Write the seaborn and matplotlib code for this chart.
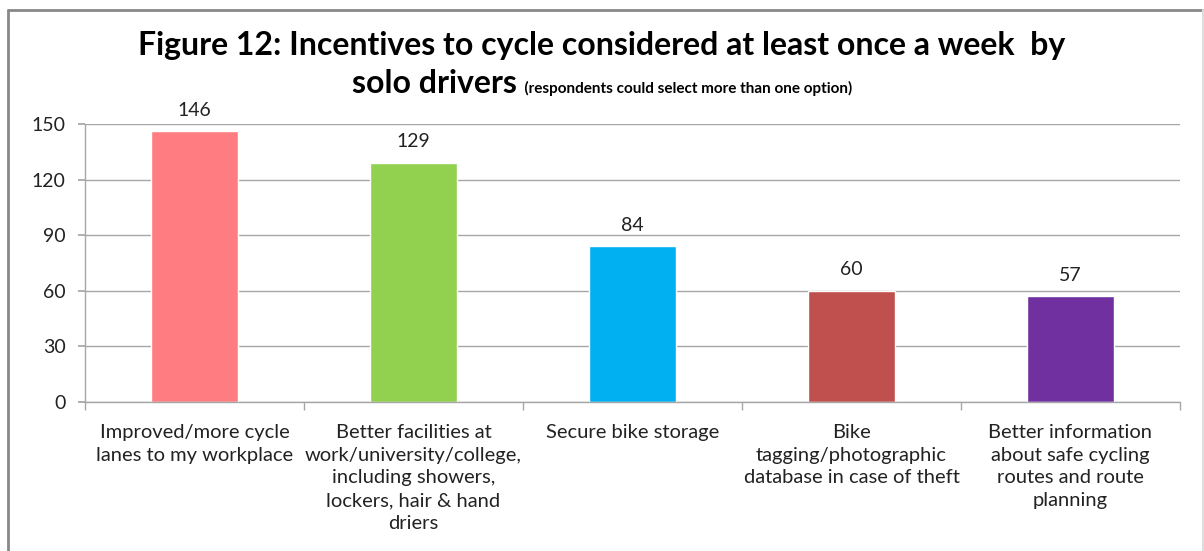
import matplotlib
matplotlib.use("Agg")
import matplotlib.pyplot as plt
import pandas as pd
import seaborn as sns
from matplotlib.lines import Line2D

# chart data
categories = [
    "Improved/more cycle\nlanes to my workplace",
    "Better facilities at\nwork/university/college,\nincluding showers,\nlockers, hair & hand\ndriers",
    "Secure bike storage",
    "Bike\ntagging/photographic\ndatabase in case of theft",
    "Better information\nabout safe cycling\nroutes and route\nplanning",
]
counts = [146, 129, 84, 60, 57]
bar_colors = ["#FF7C80", "#92D050", "#00B0F0", "#C0504D", "#7030A0"]
y_ticks = [0, 30, 60, 90, 120, 150]

sns.set_theme(style="white")
plt.rcParams["font.family"] = ["Lato", "DejaVu Sans"]

df = pd.DataFrame({"category": categories, "count": counts})

fig = plt.figure(figsize=(12.04, 5.51), dpi=100)
ax = fig.add_axes([0.0706, 0.2704, 0.9094, 0.5046])

sns.barplot(data=df, x="category", y="count", hue="category",
            palette=bar_colors, width=0.40, legend=False, ax=ax,
            saturation=1)

ax.set_ylim(0, 150)
ax.set_xlim(-0.5, len(categories) - 0.5)
ax.set_yticks(y_ticks)
ax.yaxis.grid(True, color="#A6A6A6", linewidth=1)
ax.set_axisbelow(True)
ax.set_xlabel("")
ax.set_ylabel("")

for side in ["top", "right"]:
    ax.spines[side].set_visible(False)
for side in ["left", "bottom"]:
    ax.spines[side].set_color("#A6A6A6")
    ax.spines[side].set_linewidth(1)

ax.tick_params(axis="y", which="major", direction="out", length=5,
               color="#A6A6A6", labelsize=14, labelcolor="#222222", pad=9, left=True)
ax.tick_params(axis="x", which="major", length=0, labelsize=14.5,
               labelcolor="#222222", pad=16)
ax.set_xticks(range(len(categories)))
ax.set_xticklabels(categories, linespacing=1.4, va="top")
ax.set_xticks([i - 0.5 for i in range(len(categories) + 1)], minor=True)
ax.tick_params(axis="x", which="minor", direction="out", length=6,
               color="#A6A6A6", bottom=True)

for cont in ax.containers:
    ax.bar_label(cont, padding=9, fontsize=14, color="#222222")

# title, two lines; second line mixes big and small text
fig.text(0.5, 0.918, "Figure 12: Incentives to cycle considered at least once a week  by",
         ha="center", va="center", fontsize=23, fontweight="bold", color="black")
renderer = fig.canvas.get_renderer()
big = fig.text(0, 0.832, "solo drivers", ha="left", va="baseline",
               fontsize=23, fontweight="bold", color="black")
small = fig.text(0, 0.832, "  (respondents could select more than one option)",
                 ha="left", va="baseline", fontsize=11, fontweight="bold", color="black")
w_big = big.get_window_extent(renderer).width / fig.bbox.width
w_small = small.get_window_extent(renderer).width / fig.bbox.width
x0 = 0.5 - (w_big + w_small) / 2
big.set_x(x0)
small.set_x(x0 + w_big)

# outer frame (bottom edge out of view)
fx0, fx1, fy = 8 / 1204, 1202.5 / 1204, 1 - 10 / 551
fig.add_artist(Line2D([fx0, fx0], [0, fy], transform=fig.transFigure,
                      color="#888888", linewidth=2))
fig.add_artist(Line2D([fx0, fx1], [fy, fy], transform=fig.transFigure,
                      color="#888888", linewidth=2))
fig.add_artist(Line2D([fx1, fx1], [0, fy], transform=fig.transFigure,
                      color="#DDDDDD", linewidth=1.5))

fig.savefig("out.png", dpi=100)
